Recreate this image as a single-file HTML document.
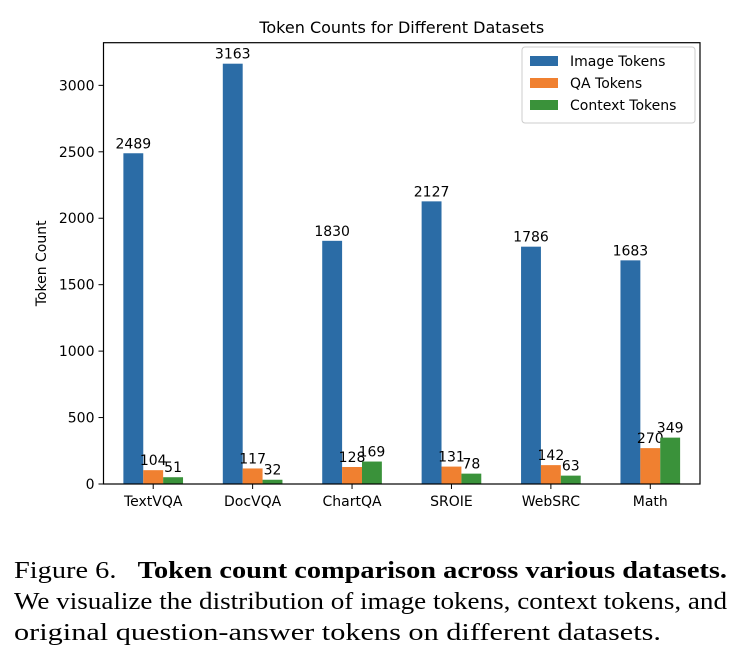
<!DOCTYPE html>
<html><head><meta charset="utf-8"><style>
body{margin:0;background:#fff;width:740px;height:660px;overflow:hidden}
svg text{font-family:"DejaVu Sans","Liberation Sans",sans-serif}
.cap{position:absolute;left:14px;top:556px;width:713px;font-family:"Liberation Serif",serif;font-size:24px;line-height:31px;color:#000}
.cap div{white-space:nowrap;height:31px}
.cap span{display:inline-block;transform-origin:0 50%}
</style></head><body>
<svg id="chart" width="740" height="540" style="position:absolute;left:0;top:0"></svg>
<div class="cap">
<div><span data-w="713">Figure 6.&nbsp;&nbsp; <b>Token count comparison across various datasets.</b></span></div>
<div><span data-w="713">We visualize the distribution of image tokens, context tokens, and</span></div>
<div><span data-w="647">original question-answer tokens on different datasets.</span></div>
</div>
<script>
document.querySelectorAll('.cap span').forEach(s=>{const w=s.getBoundingClientRect().width;s.style.transform='scaleX('+(+s.dataset.w/w)+')';});
const categories=["TextVQA","DocVQA","ChartQA","SROIE","WebSRC","Math"];
const imageTokens=[2489,3163,1830,2127,1786,1683];
const qaTokens=[104,117,128,131,142,270];
const contextTokens=[51,32,169,78,63,349];
const yTicks=[0,500,1000,1500,2000,2500,3000];
const seriesNames=["Image Tokens","QA Tokens","Context Tokens"];
const colors=["#2b6ca6","#f08030","#3a923a"];
const svg=document.getElementById('chart');
const NS="http://www.w3.org/2000/svg";
const L=103.5,R=700,T=42.7,B=484,ymax=3321;
const step=(R-L)/categories.length;
const xc=i=>L+step*(i+0.5);
const y=v=>B-v/ymax*(B-T);
function mk(t,a,txt){const e=document.createElementNS(NS,t);for(const k in a)e.setAttribute(k,a[k]);if(txt!=null)e.textContent=txt;svg.appendChild(e);return e;}
let t=mk('text',{x:(L+R)/2,y:33,'text-anchor':'middle','font-size':16},'Token Counts for Different Datasets');

const bw=step*0.2;
[imageTokens,qaTokens,contextTokens].forEach((s,si)=>{s.forEach((v,i)=>{
 const x=xc(i)+(si-1)*bw-bw/2;
 const r=mk('rect',{x:x,y:y(v),width:bw,height:B-y(v),fill:colors[si]});
 
 
 const l=mk('text',{x:x+bw/2,y:y(v)-5,'text-anchor':'middle','font-size':14},String(v));
 
 
});});
mk('rect',{x:L,y:T,width:R-L,height:B-T,fill:'none',stroke:'#000','stroke-width':1.2});
yTicks.forEach(v=>{mk('line',{x1:L-5,x2:L,y1:y(v),y2:y(v),stroke:'#000'});
 const e=mk('text',{x:L-9,y:y(v)+5,'text-anchor':'end','font-size':14},String(v));
 });
categories.forEach((c,i)=>{mk('line',{x1:xc(i),x2:xc(i),y1:B,y2:B+5,stroke:'#000'});
 const e=mk('text',{x:xc(i),y:B+22,'text-anchor':'middle','font-size':14},c);
 });
const yt=mk('text',{x:0,y:0,'text-anchor':'middle','font-size':14,transform:`translate(46,${(T+B)/2}) rotate(-90)`},'Token Count');

const lg=mk('rect',{x:522,y:47,width:173,height:76,fill:'#fff',stroke:'#ccc',rx:3});

seriesNames.forEach((n,i)=>{mk('rect',{x:530,y:56+i*22,width:28,height:10,fill:colors[i]});
 const e=mk('text',{x:570,y:66+i*22,'font-size':14},n);
 });
</script>
</body></html>
